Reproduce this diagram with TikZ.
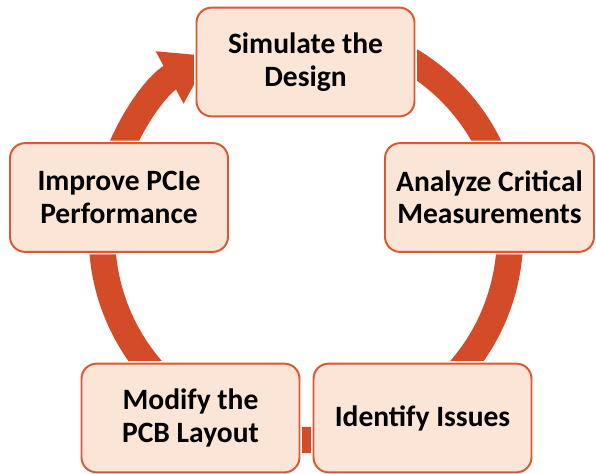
\documentclass[tikz,border=0pt]{standalone}
\usepackage{fontspec}
\setmainfont{Carlito}
\usepackage{tikz}
\usetikzlibrary{arrows.meta}
\definecolor{ringred}{RGB}{212,75,39}
\definecolor{boxfill}{RGB}{251,229,214}
\definecolor{boxline}{RGB}{218,88,50}

\begin{document}
\begin{tikzpicture}[
	stage/.style={shape=rectangle, rounded corners=0.38cm, fill=boxfill, draw=boxline, line width=1.4pt,
		preaction={draw=white, line width=3.5pt}, minimum width=5.45cm, minimum height=2.72cm,
		align=center, font=\fontsize{21}{23}\selectfont\bfseries},
	ring/.style={draw=ringred, line width=0.66cm, -{Triangle[width=1.4cm, length=1.15cm]}}
	]
	\useasboundingbox (0,0) rectangle (14.9,11.825);

	\coordinate (hub) at (7.65, 5.925);
	\path (hub) ++(80:5.1) coordinate (ringstart);
	\draw[ring] (ringstart) arc[start angle=80, end angle=-242, radius=5.1];

	\node[stage] (sim) at (7.6375, 10.275)     {Simulate the\\Design};
	\node[stage, minimum width=5.225cm] (ana) at (12.2375, 6.8875)     {Analyze Critical\\Measurements};
	\node[stage] (ide) at (10.5625, 1.375)     {Identify Issues};
	\node[stage] (mod) at (4.7625, 1.375)     {Modify the\\PCB Layout};
	\node[stage] (imp) at (2.975, 6.8875)     {Improve PCIe\\Performance};

\end{tikzpicture}
\end{document}
